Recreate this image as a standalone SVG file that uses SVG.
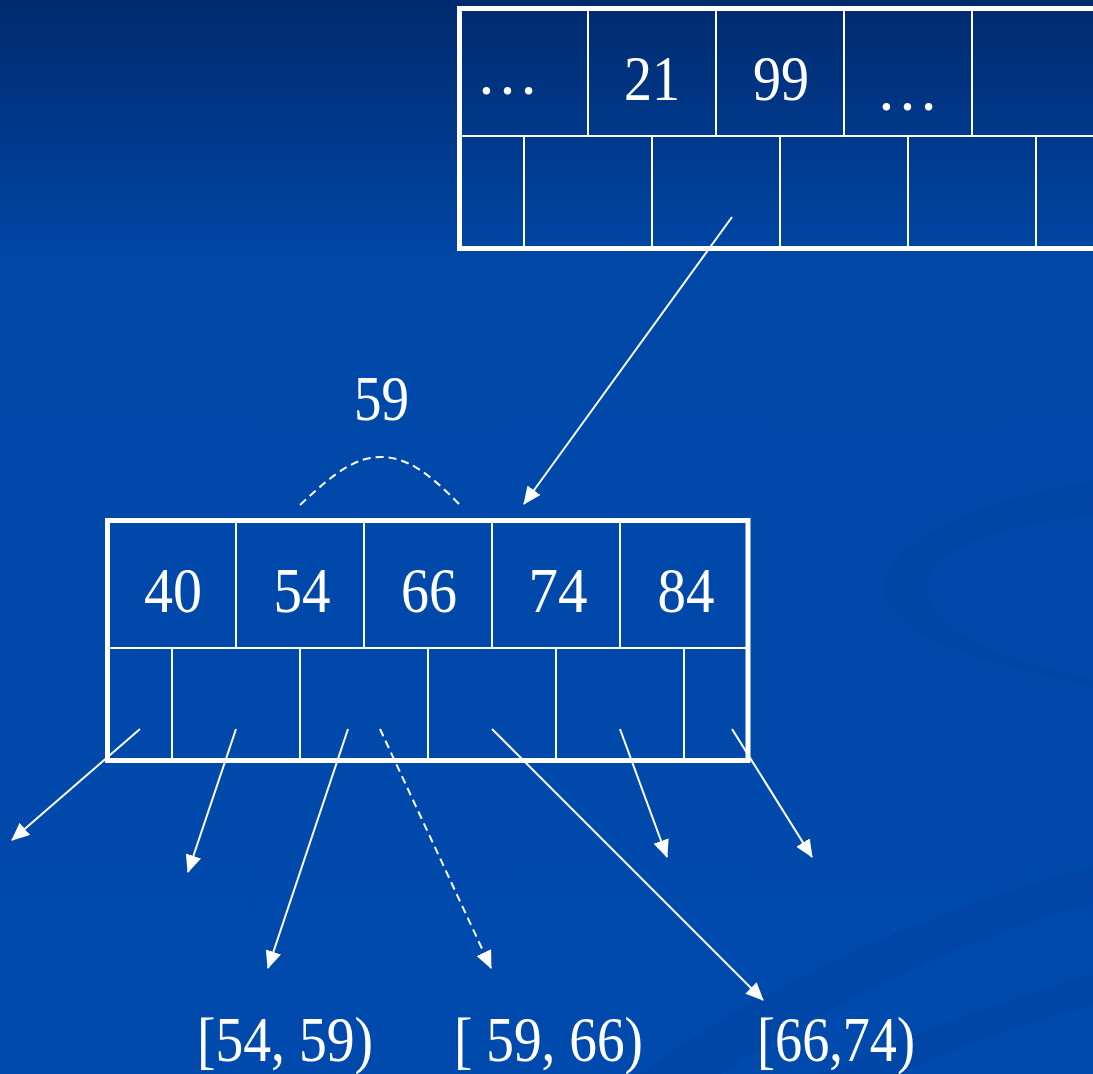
<svg xmlns="http://www.w3.org/2000/svg" width="1093" height="1074" viewBox="0 0 1093 1074">
<defs>
<linearGradient id="bg" x1="0" y1="0" x2="0" y2="1074" gradientUnits="userSpaceOnUse">
<stop offset="0" stop-color="#002a6e"/>
<stop offset="0.25" stop-color="#0048a8"/>
<stop offset="1" stop-color="#004aad"/>
</linearGradient>
<marker id="ah" markerUnits="userSpaceOnUse" markerWidth="19" markerHeight="17" refX="17" refY="8" orient="auto">
<path d="M0,0 L18,8 L0,16 z" fill="#ffffff"/>
</marker>
<style>
.outer{fill:none;stroke:#ffffff;stroke-width:5}
.inner{fill:none;stroke:#ffffff;stroke-width:2}
.t{font-family:"Liberation Serif","Times New Roman",serif;font-size:63px;fill:#ffffff;text-anchor:middle}
.arr{stroke:#ffffff;stroke-width:2;fill:none;marker-end:url(#ah)}
.dash{stroke-dasharray:8 5}
</style>
</defs>
<rect x="0" y="0" width="1093" height="1074" fill="url(#bg)"/>
<g id="swirl" fill="#003f9c" opacity="0.3">
<path d="M1093,481 C1000,498 898,528 884,582 C874,632 990,666 1093,687 L1093,680 C1000,660 932,630 927,590 C923,550 1000,525 1093,515 Z"/>
<path d="M1093,866 C960,905 800,960 640,1074 L720,1074 C850,990 980,935 1093,903 Z"/>
<path d="M1093,975 C1000,1000 900,1040 820,1074 L900,1074 C960,1045 1030,1022 1093,1005 Z"/>
</g>
<g id="node-top">
<rect class="outer" x="459.5" y="8.5" width="700" height="240"/>
<path class="inner" d="M459,136 H1093 M588,8.5 V136 M716,8.5 V136 M844,8.5 V136 M972,8.5 V136 M524,136 V248.5 M652,136 V248.5 M780,136 V248.5 M908,136 V248.5 M1036,136 V248.5"/>
<text class="t" x="507.5" y="94">…</text>
<text class="t" x="652" y="100" textLength="56" lengthAdjust="spacingAndGlyphs">21</text>
<text class="t" x="781" y="100" textLength="56" lengthAdjust="spacingAndGlyphs">99</text>
<text class="t" x="907.5" y="110">…</text>
</g>
<g id="node-bottom">
<rect class="outer" x="107.5" y="520.5" width="640.5" height="240"/>
<path class="inner" d="M107.5,648 H748 M236,520.5 V648 M364,520.5 V648 M492,520.5 V648 M620,520.5 V648 M172,648 V760.5 M300,648 V760.5 M428,648 V760.5 M556,648 V760.5 M684,648 V760.5"/>
<text class="t" x="173" y="612" textLength="58" lengthAdjust="spacingAndGlyphs">40</text>
<text class="t" x="302" y="612" textLength="57" lengthAdjust="spacingAndGlyphs">54</text>
<text class="t" x="429" y="612" textLength="56" lengthAdjust="spacingAndGlyphs">66</text>
<text class="t" x="558" y="612" textLength="59" lengthAdjust="spacingAndGlyphs">74</text>
<text class="t" x="686" y="612" textLength="57" lengthAdjust="spacingAndGlyphs">84</text>
</g>
<g id="insert-label">
<text class="t" x="381.5" y="420" textLength="55" lengthAdjust="spacingAndGlyphs">59</text>
<path d="M300,505 C335,472 356,457 381,457 C406,457 428,472 460,505" fill="none" stroke="#ffffff" stroke-width="2" stroke-dasharray="8 5"/>
</g>
<g id="connectors">
<line class="arr" x1="732" y1="217" x2="524" y2="504"/>
<line class="arr" x1="140" y1="729" x2="12" y2="840"/>
<line class="arr" x1="236" y1="729" x2="188" y2="872"/>
<line class="arr" x1="348" y1="729" x2="268" y2="968"/>
<line class="arr dash" x1="380" y1="729" x2="491" y2="968"/>
<line class="arr" x1="492" y1="729" x2="763" y2="1000"/>
<line class="arr" x1="620" y1="729" x2="667" y2="857"/>
<line class="arr" x1="732" y1="729" x2="812" y2="857"/>
</g>
<g id="ranges">
<text class="t" x="285" y="1061" textLength="176" lengthAdjust="spacingAndGlyphs">[54, 59)</text>
<text class="t" x="548.5" y="1061" textLength="189" lengthAdjust="spacingAndGlyphs">[ 59, 66)</text>
<text class="t" x="836" y="1061" textLength="158" lengthAdjust="spacingAndGlyphs">[66,74)</text>
</g>
</svg>
